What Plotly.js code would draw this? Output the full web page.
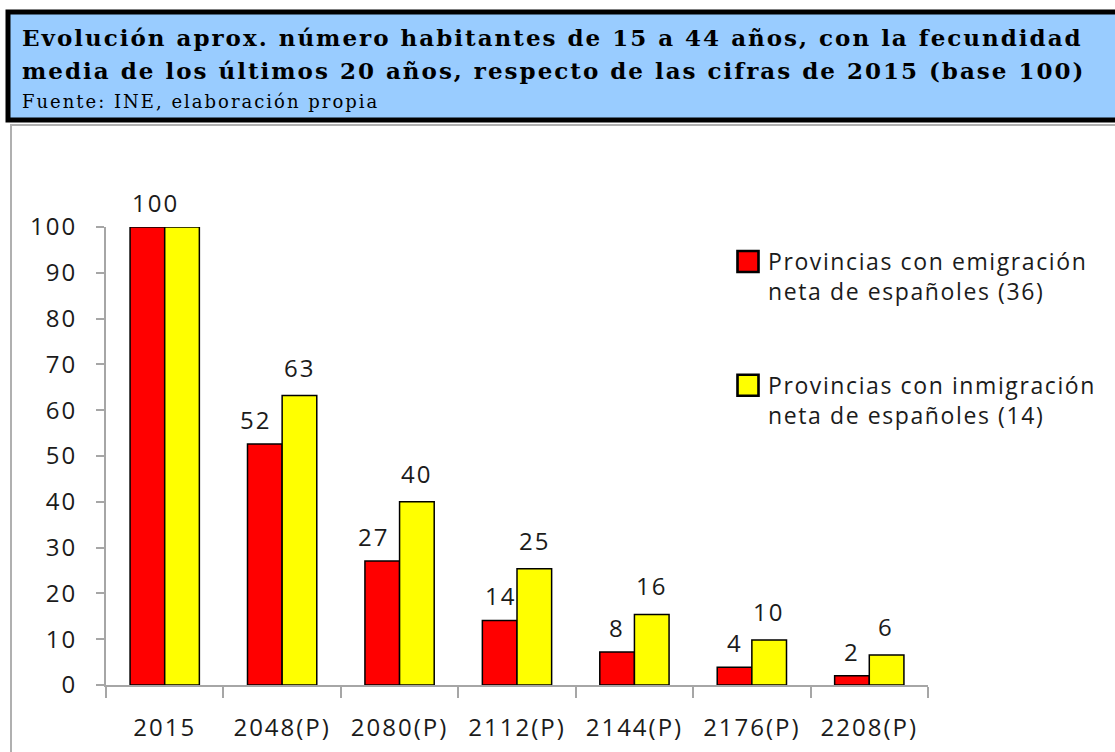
<!DOCTYPE html>
<html>
<head>
<meta charset="utf-8">
<script src="https://cdn.plot.ly/plotly-3.0.1.min.js"></script>
<style>
  html, body { margin: 0; padding: 0; background: #fff; }
  #chart { width: 1115px; height: 752px; }
  text { letter-spacing: 2px; }
  .legend text { letter-spacing: 1.6px; }
  #chart .legend .legendpoints path { transform: translate(20px, 0px) scale(1.75); }
</style>
</head>
<body>
<div id="chart"></div>
<script>
// ---- data ----
const categories = ['2015', '2048(P)', '2080(P)', '2112(P)', '2144(P)', '2176(P)', '2208(P)'];
const emigracion = [100, 52.6, 27.1, 14.1, 7.2, 3.9, 2.0];
const inmigracion = [100, 63.2, 40.0, 25.4, 15.4, 9.8, 6.55];
const emigracionLabels = ['100', '52', '27', '14', '8', '4', '2'];
const inmigracionLabels = ['', '63', '40', '25', '16', '10', '6'];
const nameEmigracion = 'Provincias con emigración<br>neta de españoles (36)';
const nameInmigracion = 'Provincias con inmigración<br>neta de españoles (14)';
const titleLine1 = 'Evolución aprox. número habitantes de 15 a 44 años, con la fecundidad';
const titleLine2 = 'media de los últimos 20 años, respecto de las cifras de 2015 (base 100)';
const sourceText = 'Fuente: INE, elaboración propia';
const yTicks = [0, 10, 20, 30, 40, 50, 60, 70, 80, 90, 100];

// ---- layout geometry (pixels) ----
const W = 1115, H = 752;
const L = 106, R = 928, T = 227, B = 685;
const pw = R - L, ph = B - T;
const px = x => (x - L) / pw;
const py = y => (B - y) / ph;
const barHalf = 17;
const redNudge = [8, -10, -9, 0, 0, 0, 0];

const font = 'Open Sans, Liberation Sans, sans-serif';
const serif = 'DejaVu Serif, serif';
const txtColor = '#1b1b1b';

const annotations = [];
categories.forEach((c, i) => {
  if (emigracionLabels[i]) annotations.push({
    x: i, y: emigracion[i], xref: 'x', yref: 'y', text: emigracionLabels[i],
    showarrow: false, yanchor: 'bottom', xshift: -barHalf + redNudge[i], yshift: 6,
    font: {family: font, size: 24, color: txtColor}
  });
  if (inmigracionLabels[i]) annotations.push({
    x: i, y: inmigracion[i], xref: 'x', yref: 'y', text: inmigracionLabels[i],
    showarrow: false, yanchor: 'bottom', xshift: barHalf, yshift: 10,
    font: {family: font, size: 24, color: txtColor}
  });
});

annotations.push({
  xref: 'paper', yref: 'paper', x: px(20), y: py(53), xanchor: 'left', yanchor: 'bottom',
  text: '<b>' + titleLine1 + '</b>', showarrow: false,
  font: {family: serif, size: 23, color: '#000'}
});
annotations.push({
  xref: 'paper', yref: 'paper', x: px(20), y: py(86), xanchor: 'left', yanchor: 'bottom',
  text: '<b>' + titleLine2 + '</b>', showarrow: false,
  font: {family: serif, size: 23, color: '#000'}
});
annotations.push({
  xref: 'paper', yref: 'paper', x: px(20), y: py(114), xanchor: 'left', yanchor: 'bottom',
  text: sourceText, showarrow: false,
  font: {family: serif, size: 18, color: '#000'}
});

const shapes = [
  {type: 'rect', xref: 'paper', yref: 'paper', x0: px(11), x1: px(1125), y0: py(125), y1: py(760),
   line: {color: '#b0b0b0', width: 2}, fillcolor: 'rgba(0,0,0,0)', layer: 'below'},
  {type: 'rect', xref: 'paper', yref: 'paper', x0: px(8), x1: px(1125), y0: py(12), y1: py(120),
   line: {color: '#000', width: 5}, fillcolor: '#99ccff', layer: 'below'}
];

const traces = [
  {type: 'bar', x: categories, y: emigracion, name: nameEmigracion, legendgroup: 'a',
   marker: {color: '#ff0000', line: {color: '#000', width: 1.5}}, hoverinfo: 'y'},
  {type: 'bar', x: categories, y: inmigracion, name: nameInmigracion, legendgroup: 'b',
   marker: {color: '#ffff00', line: {color: '#000', width: 1.5}}, hoverinfo: 'y'}
];

const layout = {
  width: W, height: H,
  margin: {l: L, r: W - R, t: T, b: H - B, pad: 0, autoexpand: false},
  paper_bgcolor: '#fff', plot_bgcolor: '#fff',
  barmode: 'group', bargap: 0.41, bargroupgap: 0,
  showlegend: true,
  legend: {x: px(728), y: py(240), xanchor: 'left', yanchor: 'top',
    font: {family: font, size: 23, color: txtColor},
    traceorder: 'grouped', tracegroupgap: 61, valign: 'top',
    bgcolor: 'rgba(0,0,0,0)', itemwidth: 30},
  xaxis: {type: 'category', range: [-0.5, categories.length - 0.5], showline: true, linecolor: '#a6a6a6', linewidth: 2,
    ticks: 'outside', tickson: 'boundaries', ticklen: 11, tickcolor: '#a6a6a6', tickwidth: 2,
    tickfont: {family: font, size: 24, color: txtColor}, ticklabelstandoff: 20,
    showgrid: false, zeroline: false, fixedrange: true},
  yaxis: {range: [0, 100], tickvals: yTicks, showline: true, linecolor: '#a6a6a6', linewidth: 2,
    ticks: 'outside', ticklen: 8, tickcolor: '#a6a6a6', tickwidth: 2,
    tickfont: {family: font, size: 24, color: txtColor}, ticklabelstandoff: 14,
    showgrid: false, zeroline: false, fixedrange: true},
  annotations: annotations,
  shapes: shapes
};

Plotly.newPlot('chart', traces, layout, {displayModeBar: false, staticPlot: true});
</script>
</body>
</html>
